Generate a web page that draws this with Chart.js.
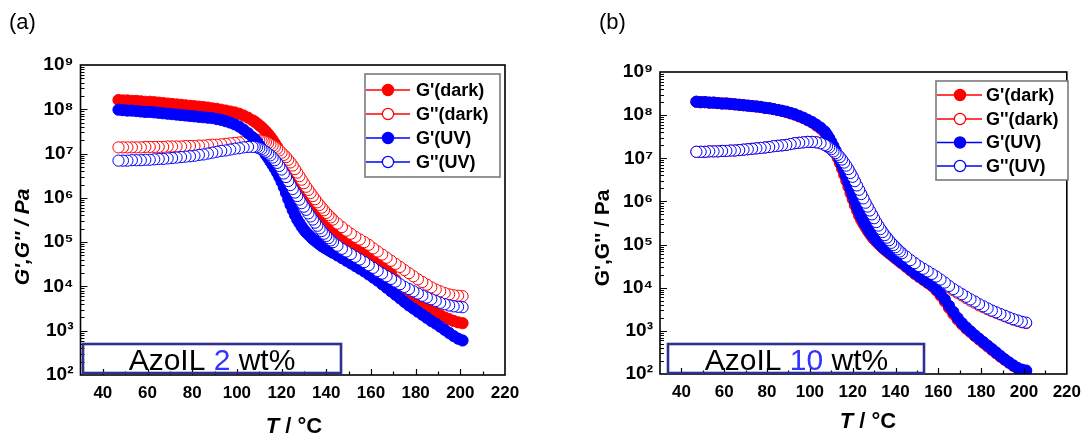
<!DOCTYPE html>
<html><head><meta charset="utf-8">
<script src="https://cdn.jsdelivr.net/npm/chart.js@4.4.1/dist/chart.umd.min.js"></script>
<style>
html,body{margin:0;padding:0;background:#fff;width:1089px;height:442px;overflow:hidden}
#wa{position:absolute;left:0;top:0;width:545px;height:442px}
#wb{position:absolute;left:545px;top:0;width:544px;height:442px}
canvas{display:block}
</style></head><body>
<div id="wa"><canvas id="ca" width="545" height="442"></canvas></div>
<div id="wb"><canvas id="cb" width="544" height="442"></canvas></div>
<script>
// ---------- data ----------
const temps = [47,49,51,53,55,57,59,61,63,65,67,69,71,73,75,77,79,81,83,85,87,89,91,93,95,97,99,101,103,105,107,
  108,109,110,111,112,113,114,115,116,117,118,119,120,121,122,123,124,125,126,127,128,129,130,131,132,133,134,135,136,137,138,139,140,141,142,
  143,145,147,149,151,153,155,157,159,161,163,165,167,169,171,173,175,177,179,181,183,185,187,189,191,193,195,197,199,201];
const seriesLabels = ["G'(dark)", "G''(dark)", "G'(UV)", "G''(UV)"];
const xTickValues = [40,60,80,100,120,140,160,180,200,220];
const yTickValues = [1e2,1e3,1e4,1e5,1e6,1e7,1e8,1e9];
const yTickLabels = ['10\u00B2','10\u00B3','10\u2074','10\u2075','10\u2076','10\u2077','10\u2078','10\u2079'];

// values are log10(Pa), one per entry of temps
// panel (a): AzoIL 2 wt%
const aGpDark = [8.21,8.20,8.20,8.19,8.19,8.18,8.17,8.17,8.16,8.15,8.14,8.13,8.12,8.11,8.10,8.09,8.08,8.07,8.06,8.05,8.04,8.02,8.01,7.99,7.97,7.95,7.93,7.90,7.86,7.81,7.75,
  7.72,7.68,7.64,7.60,7.55,7.50,7.44,7.38,7.31,7.23,7.15,7.06,6.97,6.88,6.78,6.68,6.58,6.48,6.38,6.28,6.19,6.10,6.03,5.96,5.90,5.84,5.78,5.73,5.67,5.62,5.56,5.51,5.45,5.40,5.35,
  5.30,5.21,5.13,5.06,5.00,4.94,4.88,4.82,4.76,4.69,4.61,4.52,4.41,4.28,4.15,4.02,3.90,3.81,3.73,3.65,3.58,3.52,3.46,3.40,3.35,3.30,3.26,3.22,3.19,3.17];
const aGppDark = [7.14,7.14,7.14,7.14,7.14,7.14,7.15,7.15,7.15,7.15,7.15,7.16,7.16,7.16,7.16,7.17,7.17,7.17,7.18,7.18,7.19,7.20,7.20,7.21,7.22,7.23,7.24,7.25,7.27,7.28,7.29,
  7.30,7.30,7.30,7.29,7.28,7.26,7.24,7.21,7.18,7.15,7.11,7.07,7.02,6.97,6.92,6.86,6.80,6.73,6.65,6.57,6.49,6.41,6.33,6.25,6.18,6.11,6.04,5.97,5.90,5.84,5.78,5.72,5.66,5.61,5.56,
  5.51,5.42,5.34,5.26,5.19,5.12,5.06,5.00,4.94,4.86,4.79,4.72,4.65,4.58,4.51,4.44,4.37,4.30,4.23,4.16,4.10,4.04,3.98,3.93,3.89,3.85,3.82,3.80,3.79,3.78];
const aGpUV = [7.99,7.98,7.97,7.97,7.96,7.95,7.94,7.94,7.93,7.92,7.91,7.90,7.89,7.88,7.87,7.86,7.85,7.84,7.83,7.82,7.81,7.80,7.78,7.76,7.73,7.70,7.66,7.61,7.54,7.46,7.37,
  7.32,7.26,7.19,7.12,7.05,6.97,6.90,6.82,6.74,6.66,6.57,6.47,6.36,6.24,6.11,5.97,5.84,5.72,5.61,5.51,5.43,5.35,5.28,5.22,5.17,5.12,5.07,5.03,4.99,4.95,4.91,4.88,4.85,4.82,4.79,
  4.76,4.70,4.64,4.58,4.52,4.46,4.40,4.34,4.27,4.20,4.13,4.05,3.97,3.89,3.81,3.73,3.65,3.57,3.50,3.43,3.36,3.29,3.22,3.16,3.09,3.02,2.95,2.88,2.82,2.78];
const aGppUV = [6.84,6.84,6.84,6.85,6.85,6.85,6.86,6.86,6.87,6.88,6.88,6.89,6.90,6.91,6.92,6.93,6.94,6.95,6.97,6.98,7.00,7.02,7.04,7.06,7.07,7.09,7.11,7.12,7.14,7.15,7.15,
  7.15,7.14,7.12,7.10,7.07,7.04,7.00,6.96,6.91,6.85,6.79,6.72,6.64,6.55,6.47,6.38,6.29,6.20,6.12,6.04,5.96,5.88,5.80,5.73,5.65,5.58,5.51,5.44,5.37,5.31,5.25,5.19,5.14,5.09,5.04,
  5.00,4.92,4.85,4.79,4.73,4.67,4.61,4.55,4.48,4.42,4.35,4.29,4.23,4.17,4.11,4.05,3.99,3.94,3.89,3.84,3.79,3.75,3.71,3.67,3.63,3.60,3.57,3.55,3.54,3.53];

// panel (b): AzoIL 10 wt%
const bGpDark = [8.31,8.30,8.30,8.29,8.29,8.28,8.27,8.27,8.26,8.25,8.24,8.23,8.22,8.21,8.20,8.19,8.17,8.16,8.14,8.12,8.10,8.07,8.04,8.01,7.97,7.93,7.88,7.83,7.76,7.69,7.59,
  7.52,7.43,7.33,7.23,7.12,7.01,6.89,6.76,6.62,6.48,6.34,6.19,6.05,5.91,5.79,5.67,5.57,5.48,5.40,5.32,5.25,5.18,5.12,5.07,5.02,4.97,4.92,4.88,4.84,4.80,4.76,4.72,4.68,4.64,4.60,
  4.56,4.48,4.40,4.32,4.25,4.18,4.11,4.04,3.94,3.82,3.68,3.53,3.39,3.26,3.15,3.05,2.97,2.88,2.80,2.72,2.64,2.56,2.48,2.40,2.33,2.26,2.19,2.13,2.09,2.07];
const bGppDark = [7.15,7.15,7.15,7.16,7.16,7.16,7.17,7.17,7.18,7.18,7.19,7.20,7.21,7.22,7.23,7.24,7.25,7.26,7.28,7.29,7.30,7.31,7.33,7.35,7.36,7.37,7.38,7.38,7.37,7.35,7.31,
  7.28,7.25,7.21,7.16,7.12,7.07,7.02,6.96,6.89,6.82,6.74,6.65,6.56,6.46,6.36,6.26,6.16,6.06,5.96,5.87,5.78,5.69,5.60,5.51,5.43,5.35,5.28,5.21,5.15,5.09,5.03,4.98,4.93,4.88,4.83,
  4.79,4.71,4.63,4.56,4.49,4.43,4.37,4.30,4.24,4.16,4.09,4.01,3.94,3.88,3.82,3.76,3.70,3.65,3.59,3.55,3.50,3.46,3.42,3.38,3.34,3.30,3.26,3.23,3.20,3.18];
const bGpUV = [8.31,8.30,8.30,8.29,8.29,8.28,8.27,8.27,8.26,8.25,8.24,8.23,8.22,8.21,8.20,8.19,8.17,8.16,8.14,8.12,8.10,8.08,8.05,8.02,7.98,7.94,7.89,7.84,7.78,7.71,7.62,
  7.55,7.47,7.38,7.28,7.18,7.08,6.96,6.84,6.71,6.57,6.43,6.28,6.14,6.00,5.87,5.75,5.64,5.54,5.45,5.37,5.29,5.22,5.16,5.10,5.04,4.99,4.94,4.90,4.86,4.82,4.78,4.74,4.70,4.66,4.62,
  4.58,4.50,4.42,4.34,4.27,4.20,4.13,4.06,3.97,3.86,3.73,3.58,3.44,3.30,3.18,3.08,2.99,2.90,2.82,2.74,2.66,2.58,2.50,2.42,2.34,2.27,2.20,2.14,2.10,2.08];
const bGppUV = [7.15,7.15,7.15,7.16,7.16,7.16,7.17,7.17,7.18,7.18,7.19,7.20,7.21,7.22,7.23,7.24,7.25,7.26,7.28,7.29,7.30,7.31,7.33,7.35,7.36,7.37,7.38,7.38,7.37,7.35,7.31,
  7.28,7.25,7.21,7.16,7.12,7.08,7.03,6.97,6.90,6.83,6.75,6.66,6.57,6.47,6.37,6.27,6.17,6.07,5.97,5.88,5.79,5.70,5.61,5.52,5.44,5.36,5.29,5.22,5.16,5.10,5.04,4.99,4.94,4.89,4.84,
  4.80,4.72,4.64,4.57,4.50,4.44,4.38,4.32,4.26,4.19,4.12,4.04,3.97,3.91,3.85,3.79,3.73,3.68,3.62,3.57,3.52,3.47,3.43,3.39,3.35,3.31,3.27,3.24,3.21,3.19];

// ---------- styling ----------
const FONT = "'Liberation Sans', Arial, Helvetica, sans-serif";
const RED = '#ff0000', BLUE = '#0000ff';

function pts(logs) {
  // drawn from high T to low T so the leftmost marker ends on top
  return temps.map((t, i) => ({x: t, y: Math.pow(10, logs[i])})).reverse();
}
function ds(label, logs, color, open, order) {
  return {
    label, data: pts(logs), showLine: true, order,
    borderWidth: 1.2, tension: 0,
    pointRadius: 5.6, pointHoverRadius: 5.6,
    pointBorderWidth: 1,
    pointBorderColor: color,
    pointBackgroundColor: open ? '#ffffff' : color,
    borderColor: color, backgroundColor: open ? '#ffffff' : color
  };
}

const decor = {
  id: 'decor',
  afterDraw(chart, args, o) {
    const ctx = chart.ctx, ca = chart.chartArea;
    const xs = chart.scales.x, ys = chart.scales.y;
    ctx.save();
    // inward ticks
    ctx.strokeStyle = '#000'; ctx.lineWidth = 1.2;
    ctx.beginPath();
    xTickValues.forEach(v => {
      [v, v - 10].forEach((t, k) => {
        if (t <= xs.min || t >= xs.max) return;
        const p = Math.round(xs.getPixelForValue(t)) + 0.5;
        const len = k === 0 ? 6 : 3.5;
        ctx.moveTo(p, ca.bottom); ctx.lineTo(p, ca.bottom - len);
      });
    });
    yTickValues.forEach(d => {
      for (let m = 1; m <= 9; m++) {
        const t = m * d;
        if (t <= ys.min || t >= ys.max) continue;
        const p = Math.round(ys.getPixelForValue(t)) + 0.5;
        const len = m === 1 ? 7 : 4;
        ctx.moveTo(ca.left, p); ctx.lineTo(ca.left + len, p);
      }
    });
    ctx.stroke();
    // frame
    ctx.lineWidth = 1.6;
    ctx.strokeRect(ca.left, ca.top, ca.right - ca.left, ca.bottom - ca.top);

    // legend
    const L = o.legend;
    ctx.fillStyle = '#fff';
    ctx.fillRect(L.x, L.y, L.w, L.h);
    ctx.strokeStyle = '#7a7a7a'; ctx.lineWidth = 1.6;
    ctx.strokeRect(L.x, L.y, L.w, L.h);
    chart.data.datasets.forEach((d, i) => {
      const y = L.rows[i];
      ctx.strokeStyle = d.pointBorderColor; ctx.lineWidth = 1.5;
      ctx.beginPath(); ctx.moveTo(L.x + 1, y); ctx.lineTo(L.markerX + 22, y); ctx.stroke();
      ctx.beginPath(); ctx.arc(L.markerX, y, 5.6, 0, Math.PI * 2);
      ctx.fillStyle = d.pointBackgroundColor; ctx.fill();
      ctx.lineWidth = 1.2; ctx.stroke();
      ctx.fillStyle = '#000';
      ctx.font = 'bold 18px ' + FONT;
      ctx.textBaseline = 'middle'; ctx.textAlign = 'left';
      ctx.fillText(d.label, L.textX, y + 1);
    });

    // annotation box
    const A = o.note;
    ctx.strokeStyle = '#2e3192'; ctx.lineWidth = 2.6;
    ctx.strokeRect(A.x, A.y, A.w, A.h);
    ctx.font = '30px ' + FONT;
    ctx.textBaseline = 'alphabetic'; ctx.textAlign = 'left';
    const widths = A.parts.map(p => ctx.measureText(p).width);
    let x = A.cx - widths.reduce((s, w) => s + w, 0) / 2;
    A.parts.forEach((p, i) => {
      ctx.fillStyle = i === 1 ? '#3333ff' : '#000';
      ctx.fillText(p, x, A.base);
      x += widths[i];
    });

    // panel label
    ctx.fillStyle = '#000';
    ctx.font = '22px ' + FONT;
    ctx.fillText(o.panel.text, o.panel.x, o.panel.y);

    // axis titles
    ctx.save();
    ctx.translate(o.ytitle.x, o.ytitle.y);
    ctx.rotate(-Math.PI / 2);
    ctx.font = (o.ytitle.italic ? 'italic ' : '') + 'bold 21px ' + FONT;
    ctx.textAlign = 'center'; ctx.textBaseline = 'middle';
    ctx.fillText(o.ytitle.text, 0, 0);
    ctx.restore();

    ctx.textBaseline = 'middle'; ctx.textAlign = 'left';
    const f1 = 'italic bold 22px ' + FONT, f2 = 'bold 22px ' + FONT;
    ctx.font = f1; const w1 = ctx.measureText(o.xtitle.a).width;
    ctx.font = f2; const w2 = ctx.measureText(o.xtitle.b).width;
    let tx = o.xtitle.x - (w1 + w2) / 2;
    ctx.font = f1; ctx.fillText(o.xtitle.a, tx, o.xtitle.y);
    ctx.font = f2; ctx.fillText(o.xtitle.b, tx + w1, o.xtitle.y);
    ctx.restore();
  }
};

function makeChart(id, g, series, deco) {
  return new Chart(document.getElementById(id), {
    type: 'scatter',
    data: {
      datasets: [
        ds(seriesLabels[0], series[0], RED, false, 3),
        ds(seriesLabels[1], series[1], RED, true, 2),
        ds(seriesLabels[2], series[2], BLUE, false, 1),
        ds(seriesLabels[3], series[3], BLUE, true, 0)
      ]
    },
    options: {
      responsive: false, animation: false, events: [],
      layout: {padding: {left: 0, top: g.top, right: g.w - g.right, bottom: 0}},
      plugins: {legend: {display: false}, tooltip: {enabled: false}, decor: deco},
      scales: {
        x: {
          type: 'linear', min: 30, max: 220,
          afterFit: s => { s.height = g.h - g.bottom; },
          afterBuildTicks: s => { s.ticks = xTickValues.map(v => ({value: v})); },
          grid: {display: false, drawTicks: false},
          border: {display: false},
          ticks: {color: '#000', font: {family: FONT, size: 17, weight: 'bold'}, padding: 8, maxRotation: 0, autoSkip: false,
                  callback: v => String(v)}
        },
        y: {
          type: 'logarithmic', min: 1e2, max: 1e9,
          afterFit: s => { s.width = g.left; },
          afterBuildTicks: s => { s.ticks = yTickValues.map(v => ({value: v})); },
          grid: {display: false, drawTicks: false},
          border: {display: false},
          ticks: {color: '#000', font: {family: FONT, size: 19, weight: 'bold'}, padding: 7, autoSkip: false,
                  callback: v => yTickLabels[yTickValues.indexOf(v)]}
        }
      }
    },
    plugins: [decor]
  });
}

makeChart('ca', {w: 545, h: 442, left: 80.5, right: 505, top: 65, bottom: 375},
  [aGpDark, aGppDark, aGpUV, aGppUV],
  {
    legend: {x: 365, y: 74, w: 135, h: 103, rows: [90, 114, 138, 162], markerX: 388, textX: 416},
    note: {x: 83, y: 344, w: 258, h: 29, cx: 212, base: 370, parts: ['AzoIL ', '2', ' wt%']},
    panel: {text: '(a)', x: 9, y: 29},
    ytitle: {text: "G',G'' / Pa", x: 23, y: 237, italic: true},
    xtitle: {a: 'T', b: ' / \u00B0C', x: 294, y: 427}
  });

makeChart('cb', {w: 544, h: 442, left: 115, right: 530, top: 72, bottom: 374},
  [bGpDark, bGppDark, bGpUV, bGppUV],
  {
    legend: {x: 391, y: 81, w: 132, h: 99, rows: [95, 119, 142.5, 166], markerX: 415, textX: 441},
    note: {x: 123, y: 344, w: 256, h: 29, cx: 251.5, base: 370, parts: ['AzoIL ', '10', ' wt%']},
    panel: {text: '(b)', x: 54, y: 29},
    ytitle: {text: "G',G'' / Pa", x: 58, y: 238, italic: false},
    xtitle: {a: 'T', b: ' / \u00B0C', x: 323, y: 422}
  });
</script>
</body></html>
